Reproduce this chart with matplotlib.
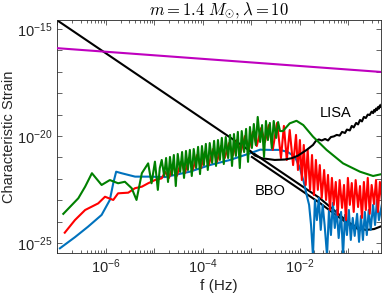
import numpy as np
import matplotlib
matplotlib.use("Agg")
import matplotlib.pyplot as plt
from matplotlib.ticker import FixedLocator, FuncFormatter, NullLocator

plt.rcParams['font.family'] = ['Liberation Sans', 'DejaVu Sans']
plt.rcParams['mathtext.fontset'] = 'custom'
plt.rcParams['mathtext.rm'] = 'Liberation Sans'
plt.rcParams['mathtext.it'] = 'Liberation Sans:italic'
plt.rcParams['mathtext.sf'] = 'Liberation Sans'

# exponents (log10)
blue_lf = [-6.95, -6.64, -6.37, -6.09, -5.92, -5.85, -5.79, -5.68, -5.40, -5.13, -4.78, -4.27, -3.86, -3.44,
           -3.03, -2.82, -2.62, -2.41, -2.25, -2.10, -2.00, -1.92, -1.86,
           -1.81, -1.77, -1.73, -1.69, -1.65, -1.61, -1.57, -1.53, -1.49, -1.44, -1.40, -1.36, -1.32, -1.28,
           -1.24, -1.20, -1.15, -1.11, -1.07, -1.03, -0.99, -0.95, -0.91, -0.87, -0.82, -0.78, -0.74, -0.70,
           -0.66, -0.62, -0.58, -0.54, -0.49, -0.45, -0.41, -0.37, -0.31]
blue_lh = [-25.25, -24.73, -24.24, -23.69, -22.99, -22.21, -21.67, -21.74, -21.90, -21.90, -21.92, -21.67, -21.36, -21.12,
           -20.81, -20.64, -20.65, -20.65, -20.75, -20.98, -21.50, -22.15, -22.76,
           -23.22, -24.16, -25.60, -22.99, -23.93, -22.90, -24.39, -23.22, -24.16, -25.60, -23.46, -24.63, -23.13, -24.30,
           -23.46, -24.77, -23.55, -25.60, -23.69, -24.63, -23.46, -24.86, -23.83, -24.67, -23.64, -24.95, -23.74, -24.86,
           -23.55, -24.63, -23.46, -24.39, -23.22, -24.16, -22.99, -23.93, -23.22]

red_lf = [-6.85, -6.64, -6.43, -6.16, -6.02, -5.85, -5.75, -5.54, -5.40, -5.26, -5.13, -4.99, -4.85,
          -4.78, -4.70, -4.62, -4.54, -4.45, -4.37, -4.29, -4.21, -4.12, -4.04, -3.96, -3.88, -3.79, -3.71,
          -3.63, -3.55, -3.46, -3.38, -3.30, -3.22, -3.13, -3.05, -2.97, -2.89, -2.80, -2.72, -2.64, -2.56,
          -2.47, -2.39, -2.33, -2.27, -2.21, -2.14, -2.08,
          -2.04, -2.00, -1.96, -1.92, -1.88, -1.84, -1.79, -1.75, -1.71, -1.67, -1.63, -1.59, -1.55, -1.50,
          -1.46, -1.42, -1.38, -1.34, -1.30, -1.26, -1.22, -1.18, -1.13, -1.09, -1.05, -1.01, -0.97, -0.93,
          -0.89, -0.85, -0.80, -0.76, -0.72, -0.68, -0.64, -0.60, -0.56, -0.52, -0.47, -0.43, -0.39, -0.35, -0.31]
red_lh = [-24.52, -23.93, -23.46, -23.15, -22.84, -22.99, -22.68, -22.65, -22.44, -22.37, -22.21, -22.06, -21.98,
          -21.68, -21.96, -21.36, -21.87, -21.21, -21.73, -21.03, -21.59, -20.89, -21.50, -20.75, -21.36, -20.61, -21.21,
          -20.47, -21.03, -20.33, -20.89, -20.19, -20.75, -20.00, -20.61, -19.81, -20.47, -19.63, -20.28, -19.49, -20.65,
          -19.39, -21.03, -19.53, -21.12, -19.72, -21.36, -19.95,
          -21.59, -20.19, -22.06, -20.42, -22.29, -20.65, -22.52, -20.89, -22.76, -21.12, -22.52, -21.36, -22.90, -21.59,
          -22.99, -21.82, -23.46, -21.96, -23.22, -22.15, -23.69, -22.06, -23.36, -22.29, -23.93, -21.96, -23.22, -22.20,
          -23.55, -22.06, -23.32, -22.34, -23.83, -22.15, -23.46, -21.96, -23.64, -22.29, -23.18, -22.06, -23.55, -22.15, -22.99]

green_lf = [-6.88, -6.57, -6.43, -6.29, -6.09, -5.92, -5.75, -5.61, -5.47, -5.37, -5.26, -5.13, -5.06, -4.99, -4.93, -4.89,
            -4.85, -4.80, -4.76, -4.72, -4.68, -4.64, -4.60, -4.56, -4.52, -4.47, -4.43, -4.39, -4.35, -4.31, -4.27,
            -4.23, -4.19, -4.14, -4.10, -4.06, -4.02, -3.98, -3.94, -3.90, -3.86, -3.81, -3.77, -3.73, -3.69, -3.65,
            -3.61, -3.57, -3.53, -3.48, -3.44, -3.40, -3.36, -3.32, -3.28, -3.24, -3.20, -3.15, -3.11, -3.07, -3.03,
            -2.99, -2.95, -2.91, -2.87, -2.82, -2.78, -2.74, -2.70, -2.66, -2.62, -2.58, -2.54, -2.49, -2.45, -2.41, -2.35,
            -2.21, -2.07, -1.93, -1.73, -1.45, -1.11, -0.76, -0.49, -0.31]
green_lh = [-23.64, -22.91, -22.37, -21.74, -22.29, -22.06, -22.21, -22.14, -22.44, -22.99, -21.74, -21.28, -22.21, -21.20, -22.52, -21.50,
            -21.12, -21.87, -21.03, -22.15, -20.98, -21.82, -20.89, -22.34, -20.84, -21.68, -20.75, -21.96, -20.70, -21.59, -20.65,
            -21.87, -20.61, -21.50, -20.51, -21.78, -20.47, -21.36, -20.37, -21.59, -20.33, -21.26, -20.23, -21.40, -20.19, -21.12,
            -20.09, -21.31, -20.05, -21.03, -19.95, -21.40, -19.91, -20.93, -19.81, -21.50, -19.77, -20.75, -19.67, -21.21, -19.58,
            -20.56, -19.44, -20.42, -19.11, -20.28, -19.49, -20.98, -19.30, -20.19, -19.39, -20.56, -19.30, -20.09, -19.35, -19.77, -19.77,
            -19.41, -19.29, -19.49, -20.03, -20.65, -21.28, -21.67, -21.87, -21.78]

lisa_lf = [-3.03, -2.93, -2.79, -2.52, -2.31, -2.17, -2.04, -1.86, -1.73, -1.67, -1.61, -1.55, -1.48, -1.42,
           -1.36, -1.30, -1.24, -1.18, -1.13, -1.07, -1.03, -0.97, -0.93, -0.89, -0.84, -0.80, -0.76, -0.72,
           -0.68, -0.64, -0.60, -0.56, -0.52, -0.49, -0.47, -0.45, -0.43, -0.41, -0.39, -0.37, -0.35, -0.33, -0.31]
lisa_lh = [-20.70, -20.91, -21.04, -21.12, -21.10, -21.04, -20.92, -20.65, -20.42, -20.23, -20.16, -20.21, -20.14, -20.21,
           -20.05, -20.02, -19.95, -19.98, -19.81, -19.86, -19.70, -19.74, -19.53, -19.60, -19.39, -19.46, -19.25, -19.32,
           -19.11, -19.16, -19.00, -19.02, -18.86, -18.93, -18.79, -18.86, -18.72, -18.79, -18.65, -18.72, -18.57, -18.65, -18.50]

bbo1_lf = [-7.10, -1.60, -1.28, -1.01, -0.80, -0.64, -0.47, -0.31]
bbo1_lh = [-14.45, -22.89, -23.50, -24.02, -24.30, -24.39, -24.35, -24.21]
bbo2_lf = [-2.99, -1.59, -1.26, -0.97, -0.76]
bbo2_lh = [-20.98, -23.13, -23.69, -24.16, -24.39]

mag_lf = [-7.10, -0.31]
mag_lh = [-15.88, -17.01]

fig = plt.figure(figsize=(3.82, 3.03), dpi=100)
ax = fig.add_axes([0.1505, 0.165, 0.8465, 0.7675])

def p(lf, lh):
    return 10.0 ** np.array(lf), 10.0 ** np.array(lh)

lw = 1.5
ax.plot(*p(bbo1_lf, bbo1_lh), color='black', lw=lw, zorder=1)
ax.plot(*p(bbo2_lf, bbo2_lh), color='black', lw=lw, zorder=1)
ax.plot(*p(blue_lf, blue_lh), color='#0072BD', lw=lw, zorder=2)
ax.plot(*p(red_lf, red_lh), color='#FF0000', lw=lw, zorder=3)
ax.plot(*p(lisa_lf, lisa_lh), color='black', lw=lw, zorder=4)
ax.plot(*p(green_lf, green_lh), color='#008000', lw=lw, zorder=5)
ax.plot(*p(mag_lf, mag_lh), color='#BF00BF', lw=lw, zorder=6)

ax.set_xscale('log')
ax.set_yscale('log')
ax.set_xlim(1e-7, 10 ** -0.33)
ax.set_ylim(10 ** -25.47, 10 ** -14.6)

ax.text(10 ** -1.27, 10 ** -18.93, 'LISA', fontsize=10.5, ha='center', va='center')
ax.text(10 ** -2.61, 10 ** -22.59, 'BBO', fontsize=10.5, ha='center', va='center')

ax.xaxis.set_major_locator(FixedLocator([10.0 ** k for k in range(-7, 1)]))
ax.xaxis.set_minor_locator(FixedLocator([m * 10.0 ** k for k in range(-7, 0) for m in range(2, 10)]))
ax.xaxis.set_major_formatter(FuncFormatter(
    lambda v, pos: r'10$^{\mathregular{%d}}$' % round(np.log10(v)) if round(np.log10(v)) in (-6, -4, -2) else ''))
ax.yaxis.set_major_locator(FixedLocator([10.0 ** k for k in range(-25, -14)]))
ax.yaxis.set_minor_locator(NullLocator())
ax.yaxis.set_major_formatter(FuncFormatter(
    lambda v, pos: r'10$^{\mathregular{%d}}$' % round(np.log10(v)) if round(np.log10(v)) in (-25, -20, -15) else ''))

ax.tick_params(which='both', direction='in', top=True, right=True, colors='0.15', labelsize=10.5, width=0.5)
ax.tick_params(which='major', length=3.5)
ax.tick_params(which='minor', length=2)
for s in ax.spines.values():
    s.set_color('0.15')
    s.set_linewidth(0.6)

ax.set_xlabel('f (Hz)', fontsize=11, color='0.15', labelpad=2)
ax.set_ylabel('Characteristic Strain', fontsize=10.5, color='0.15', labelpad=1)
ax.set_title(r'$m = 1.4\ M_{\odot}, \lambda = 10$', fontsize=12, math_fontfamily='cm', pad=3)

fig.savefig('out.png', dpi=100)
